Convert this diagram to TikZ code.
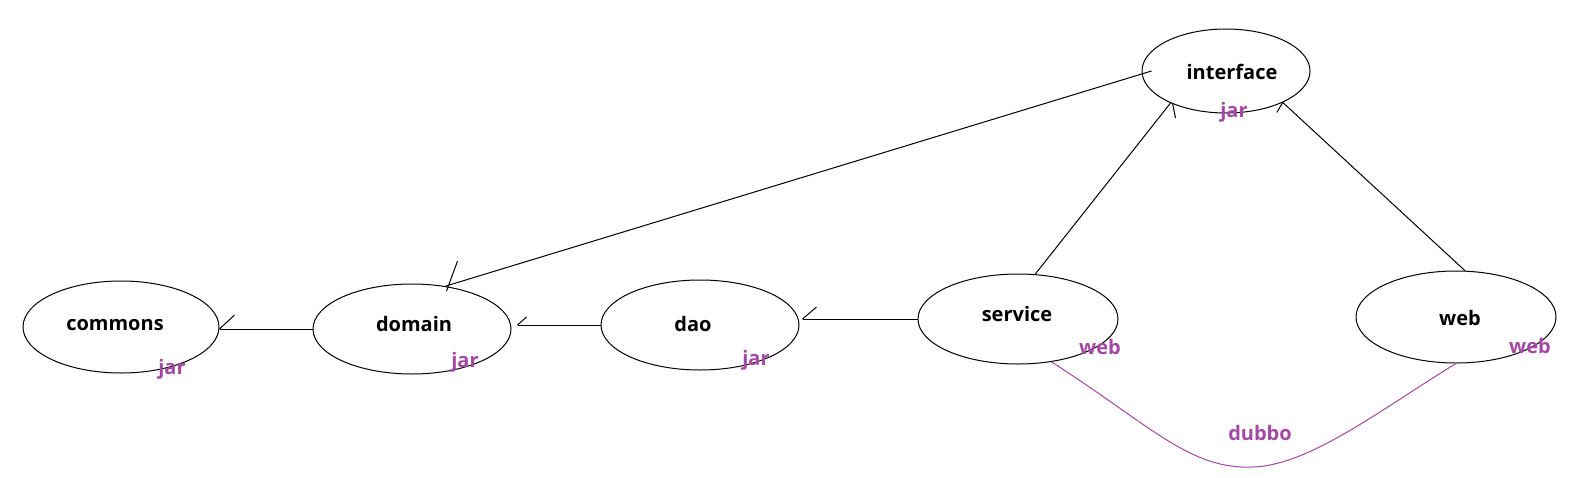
\documentclass[tikz,border=0pt]{standalone}
\usepackage{fontspec}
\setmainfont{Open Sans}
\usetikzlibrary{shapes.geometric,calc}
\definecolor{paintpurple}{RGB}{163,73,164}
\tikzset{
  oval/.style={draw=black, line width=1pt, ellipse, inner sep=0pt},
  lbl/.style={font=\fontsize{20}{24}\selectfont\bfseries, text=black, inner sep=0pt},
  tag/.style={font=\fontsize{20}{24}\selectfont\bfseries, text=paintpurple, inner sep=0pt},
  conn/.style={draw=black, line width=1pt},
  tick/.style={draw=black, line width=1pt},
  rpc/.style={draw=paintpurple, line width=1pt}
}
\begin{document}
\begin{tikzpicture}[x=1pt,y=-1pt]
\useasboundingbox[fill=white] (0,0) rectangle (1584,477);
% ovals
\node[oval, minimum width=196pt, minimum height=92pt] (commons) at (121,327) {};
\node[oval, minimum width=198pt, minimum height=90pt] (domain) at (412,329) {};
\node[oval, minimum width=198pt, minimum height=90pt] (dao) at (700,325) {};
\node[oval, minimum width=200pt, minimum height=90pt] (service) at (1018,319) {};
\node[oval, minimum width=200pt, minimum height=92pt] (web) at (1456,317) {};
\node[oval, minimum width=168pt, minimum height=84pt] (interface) at (1226,71) {};
% names
\node[lbl] (commons-t) at (115,325) {commons};
\node[lbl] (domain-t) at (414,324) {domain};
\node[lbl] (dao-t) at (693,324) {dao};
\node[lbl] (service-t) at (1017,314) {service};
\node[lbl] (web-t) at (1460,318) {web};
\node[lbl] (interface-t) at (1232,72) {interface};
% tags
\node[tag] (commons-jar) at (172,369) {jar};
\node[tag] (domain-jar) at (465,362) {jar};
\node[tag] (dao-jar) at (756,360) {jar};
\node[tag] (interface-jar) at (1234,112) {jar};
\node[tag] (service-web) at (1100,347) {web};
\node[tag] (web-web) at (1530,346) {web};
\node[tag] (dubbo) at (1260,433) {dubbo};
% connectors
\draw[conn] (domain.west -| commons.east) -- (domain.west);
\draw[tick] (domain.west -| commons.east) -- ++(15,-14);
\draw[conn] ([xshift=6pt]dao.west -| domain.east) -- (dao.west);
\draw[tick] ([xshift=6pt]dao.west -| domain.east) -- ++(9,-8);
\draw[conn] ([xshift=3pt]service.west -| dao.east) -- (service.west);
\draw[tick] ([xshift=3pt]service.west -| dao.east) -- ++(14,-12);
\draw[conn] ([xshift=10pt]interface.west) -- (domain.52);
\draw[tick] (domain.52) ++(12,-25) -- ++(-11,30);
\draw[conn] (service.69) -- (interface.210);
\draw[tick] (interface.210) ++(2,0) -- ++(3,15);
\draw[conn] (web.79) -- (interface.331);
\draw[tick] (interface.331) -- ++(-6,10);
% dubbo link
\draw[rpc] (service.308) .. controls (1150,425) and (1190,470) .. (1253,467)
  .. controls (1310,465) and (1380,410) .. (web.south);
\end{tikzpicture}
\end{document}
